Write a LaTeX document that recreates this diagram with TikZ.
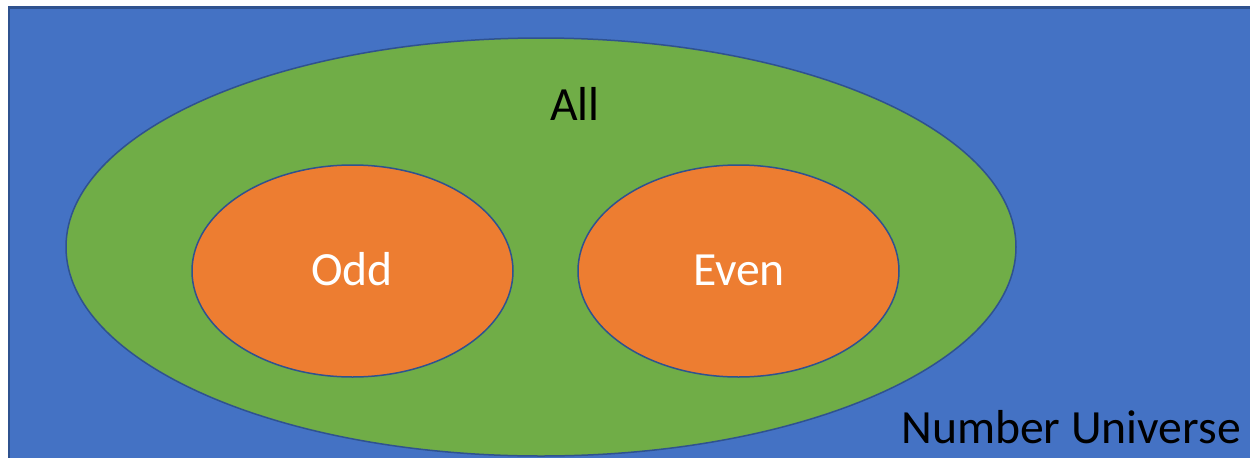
\documentclass[tikz,border=0pt]{standalone}
\usepackage{fontspec}
\setmainfont{Carlito}
\usetikzlibrary{shapes.geometric}
\definecolor{uniblue}{HTML}{4472C4}
\definecolor{edgeblue}{HTML}{2F528F}
\definecolor{allgreen}{HTML}{70AD47}
\definecolor{setorange}{HTML}{ED7D31}
\tikzset{
  px/.style={x=0.6pt,y=-0.6pt},
  setshape/.style={ellipse, draw=edgeblue, line width=0.9pt, inner sep=0pt},
  label/.style={font=\fontsize{28.6}{33}\selectfont, anchor=base, inner sep=0pt}
}
\begin{document}
\begin{tikzpicture}[px]
\useasboundingbox (0,0) rectangle (1250,457);
\clip (0,0) rectangle (1250,457);
\fill[white] (0,0) rectangle (1250,457);
\draw[fill=uniblue, draw=edgeblue, line width=1.6pt] (9,7.5) rectangle (1270,480);
\node[setshape, fill=allgreen, minimum width=950*0.6pt, minimum height=418*0.6pt] (all) at (541,247) {};
\node[setshape, fill=setorange, minimum width=321*0.6pt, minimum height=212*0.6pt] (odd) at (352.5,271) {};
\node[setshape, fill=setorange, minimum width=321*0.6pt, minimum height=212*0.6pt] (even) at (738.5,271) {};
\node[label, text=black] (alltxt) at (575,120) {All};
\node[label, text=white] (oddtxt) at (352,285) {Odd};
\node[label, text=white] (eventxt) at (739,285) {Even};
\node[label, text=black] (unitxt) at (1071,443) {Number Universe};
\end{tikzpicture}
\end{document}
